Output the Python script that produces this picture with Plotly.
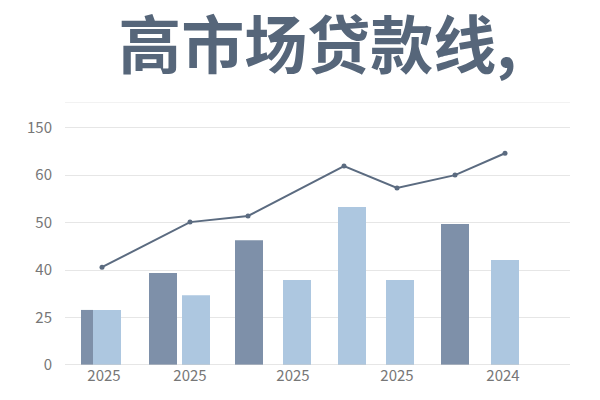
import plotly.graph_objects as go

title = "高市场贷款线,"
y_ticks = ["0", "25", "40", "50", "60", "150"]
bar_x = [87, 107, 163, 196, 249, 297, 352, 400, 455, 505]
bar_y = [1.16, 1.16, 1.94, 1.47, 2.63, 1.79, 3.33, 1.79, 2.97, 2.21]
bar_kind = ["d", "l", "d", "l", "d", "l", "l", "l", "d", "l"]
line_x = [102, 190, 248, 344, 397, 455, 505]
line_y = [2.06, 3.01, 3.14, 4.19, 3.73, 4.0, 4.46]
x_tick_pos = [104, 190, 293, 397, 503]
x_tick_text = ["2025", "2025", "2025", "2025", "2024"]

colors = {"d": "#7e90a9", "l": "#adc7e0"}
widths = [12 if i == 0 else 28 for i in range(len(bar_x))]

fig = go.Figure()
fig.add_bar(x=bar_x, y=bar_y, width=widths,
            marker=dict(color=[colors[k] for k in bar_kind], line_width=0))
fig.add_scatter(x=line_x, y=line_y, mode="lines+markers",
                line=dict(color="#5b6b80", width=2),
                marker=dict(size=5, color="#5b6b80"))
fig.update_layout(
    width=600, height=400, showlegend=False,
    paper_bgcolor="white", plot_bgcolor="white",
    margin=dict(l=57, r=38, t=94, b=43),
    font=dict(family="Noto Sans CJK SC", color="#777"),
    title=dict(text="<b>" + title + "</b>", x=0.5, xanchor="center",
               xref="paper", y=0.905, yanchor="middle",
               font=dict(size=63, color="#56667a", family="Noto Sans CJK SC")),
    xaxis=dict(range=[65, 570], tickvals=x_tick_pos, ticktext=x_tick_text,
               showgrid=False, zeroline=False, showline=False,
               tickfont=dict(size=15, color="#777")),
    yaxis=dict(range=[0, 5.54], tickvals=list(range(6)), ticktext=y_ticks,
               showgrid=True, gridcolor="#e6e6e6", zeroline=False,
               showline=False, tickfont=dict(size=15, color="#777"), ticks="",
               ticklabelstandoff=12),
)
fig.add_hline(y=5.54, line_color="#e6e6e6", line_width=1)
fig.add_hline(y=0, line_color="#cccccc", line_width=1)
fig.write_html("out.html")
